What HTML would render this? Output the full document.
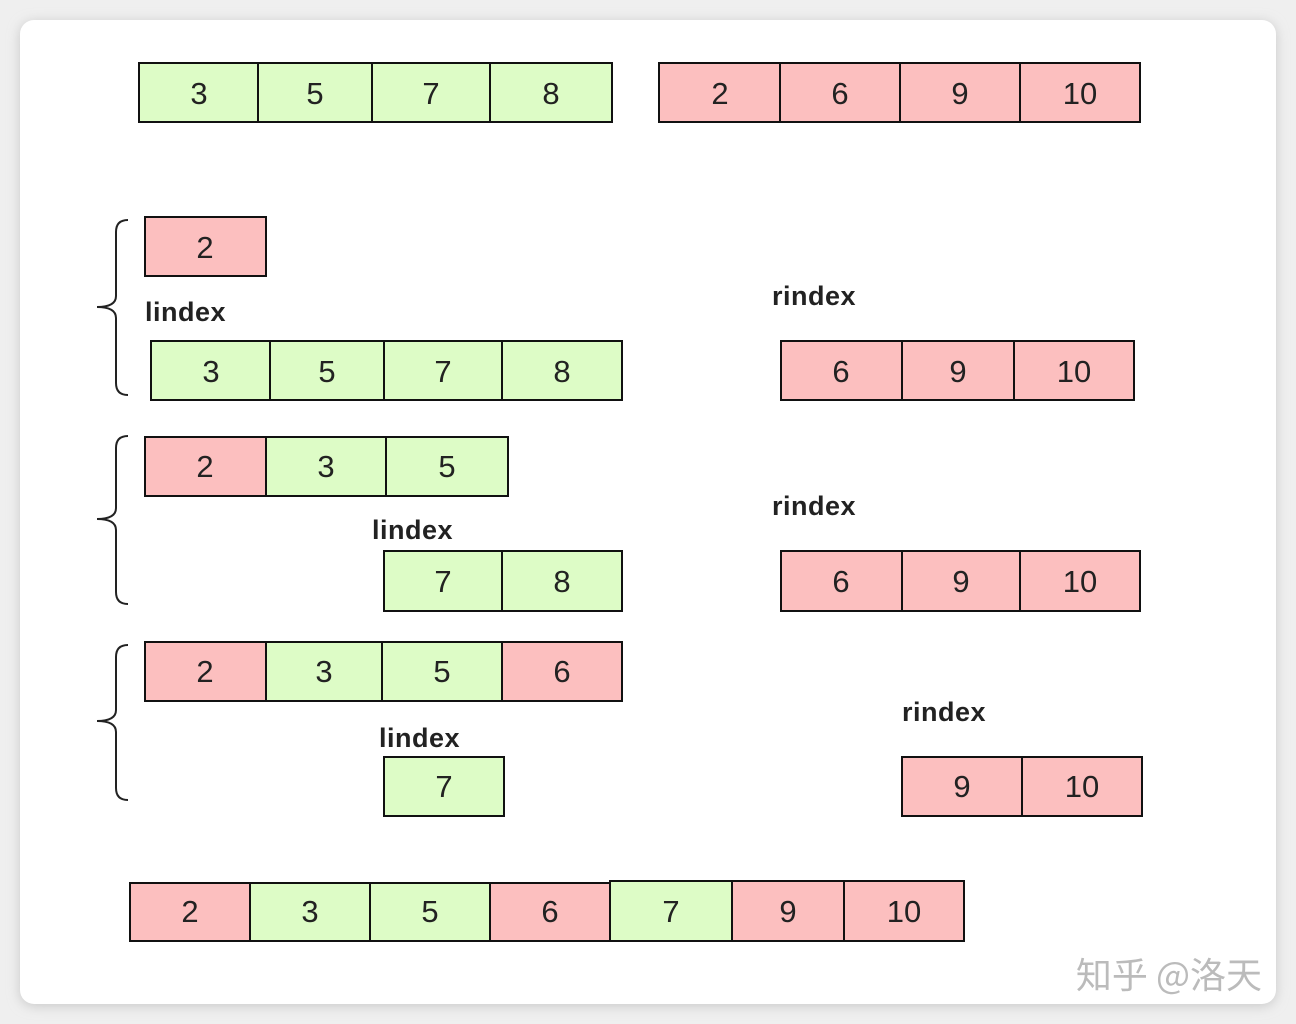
<!DOCTYPE html>
<html><head><meta charset="utf-8"><style>
html,body{margin:0;padding:0;background:#efefef;width:1296px;height:1024px;overflow:hidden}
svg{display:block}
</style></head><body>
<svg width="1296" height="1024" viewBox="0 0 1296 1024" xmlns="http://www.w3.org/2000/svg">
<defs><filter id="sh" x="-5%" y="-5%" width="110%" height="110%"><feGaussianBlur stdDeviation="6"/></filter></defs>
<rect x="20" y="22" width="1256" height="984" rx="14" fill="#c8c8c8" filter="url(#sh)"/>
<rect x="20" y="20" width="1256" height="984" rx="14" fill="#fff"/>
<g stroke="#111" stroke-width="2">
<!-- row1 green -->
<rect x="139" y="63" width="119" height="59" fill="#ddfcc6"/>
<rect x="258" y="63" width="114" height="59" fill="#ddfcc6"/>
<rect x="372" y="63" width="118" height="59" fill="#ddfcc6"/>
<rect x="490" y="63" width="122" height="59" fill="#ddfcc6"/>
<!-- row1 red -->
<rect x="659" y="63" width="121" height="59" fill="#fcbfbf"/>
<rect x="780" y="63" width="120" height="59" fill="#fcbfbf"/>
<rect x="900" y="63" width="120" height="59" fill="#fcbfbf"/>
<rect x="1020" y="63" width="120" height="59" fill="#fcbfbf"/>
<!-- A -->
<rect x="145" y="217" width="121" height="59" fill="#fcbfbf"/>
<rect x="151" y="341" width="119" height="59" fill="#ddfcc6"/>
<rect x="270" y="341" width="114" height="59" fill="#ddfcc6"/>
<rect x="384" y="341" width="118" height="59" fill="#ddfcc6"/>
<rect x="502" y="341" width="120" height="59" fill="#ddfcc6"/>
<rect x="781" y="341" width="121" height="59" fill="#fcbfbf"/>
<rect x="902" y="341" width="112" height="59" fill="#fcbfbf"/>
<rect x="1014" y="341" width="120" height="59" fill="#fcbfbf"/>
<!-- B -->
<rect x="145" y="437" width="121" height="59" fill="#fcbfbf"/>
<rect x="266" y="437" width="120" height="59" fill="#ddfcc6"/>
<rect x="386" y="437" width="122" height="59" fill="#ddfcc6"/>
<rect x="384" y="551" width="118" height="60" fill="#ddfcc6"/>
<rect x="502" y="551" width="120" height="60" fill="#ddfcc6"/>
<rect x="781" y="551" width="121" height="60" fill="#fcbfbf"/>
<rect x="902" y="551" width="118" height="60" fill="#fcbfbf"/>
<rect x="1020" y="551" width="120" height="60" fill="#fcbfbf"/>
<!-- C -->
<rect x="145" y="642" width="121" height="59" fill="#fcbfbf"/>
<rect x="266" y="642" width="116" height="59" fill="#ddfcc6"/>
<rect x="382" y="642" width="120" height="59" fill="#ddfcc6"/>
<rect x="502" y="642" width="120" height="59" fill="#fcbfbf"/>
<rect x="384" y="757" width="120" height="59" fill="#ddfcc6"/>
<rect x="902" y="757" width="120" height="59" fill="#fcbfbf"/>
<rect x="1022" y="757" width="120" height="59" fill="#fcbfbf"/>
<!-- final -->
<rect x="130" y="883" width="120" height="58" fill="#fcbfbf"/>
<rect x="250" y="883" width="120" height="58" fill="#ddfcc6"/>
<rect x="370" y="883" width="120" height="58" fill="#ddfcc6"/>
<rect x="490" y="883" width="120" height="58" fill="#fcbfbf"/>
<rect x="610" y="881" width="122" height="60" fill="#ddfcc6"/>
<rect x="732" y="881" width="112" height="60" fill="#fcbfbf"/>
<rect x="844" y="881" width="120" height="60" fill="#fcbfbf"/>
</g>
<g font-family="Liberation Sans, sans-serif" font-size="31" text-anchor="middle" fill="#222">
<text x="199" y="104">3</text><text x="315" y="104">5</text><text x="431" y="104">7</text><text x="551" y="104">8</text>
<text x="720" y="104">2</text><text x="840" y="104">6</text><text x="960" y="104">9</text><text x="1080" y="104">10</text>
<text x="205" y="258">2</text>
<text x="211" y="382">3</text><text x="327" y="382">5</text><text x="443" y="382">7</text><text x="562" y="382">8</text>
<text x="841" y="382">6</text><text x="958" y="382">9</text><text x="1074" y="382">10</text>
<text x="205" y="477">2</text><text x="326" y="477">3</text><text x="447" y="477">5</text>
<text x="443" y="592">7</text><text x="562" y="592">8</text>
<text x="841" y="592">6</text><text x="961" y="592">9</text><text x="1080" y="592">10</text>
<text x="205" y="682">2</text><text x="324" y="682">3</text><text x="442" y="682">5</text><text x="562" y="682">6</text>
<text x="444" y="797">7</text>
<text x="962" y="797">9</text><text x="1082" y="797">10</text>
<text x="190" y="922">2</text><text x="310" y="922">3</text><text x="430" y="922">5</text><text x="550" y="922">6</text>
<text x="671" y="922">7</text><text x="788" y="922">9</text><text x="904" y="922">10</text>
</g>
<g font-family="Liberation Sans, sans-serif" font-size="27" font-weight="bold" fill="#222" letter-spacing="0.5">
<text x="145" y="321">lindex</text>
<text x="772" y="305">rindex</text>
<text x="372" y="539">lindex</text>
<text x="772" y="515">rindex</text>
<text x="379" y="747">lindex</text>
<text x="902" y="721">rindex</text>
</g>
<g fill="none" stroke="#222" stroke-width="2">
<path d="M128 220 Q116 220 116 232 L116 296 Q116 307 97 307 Q116 307 116 318 L116 383 Q116 395 128 395"/>
<path d="M128 436 Q116 436 116 448 L116 508 Q116 519 97 519 Q116 519 116 530 L116 592 Q116 604 128 604"/>
<path d="M128 645 Q116 645 116 657 L116 710 Q116 721 97 721 Q116 721 116 732 L116 788 Q116 800 128 800"/>
</g>
<text x="1262" y="988" text-anchor="end" font-family="Noto Sans CJK SC, sans-serif" font-size="36" fill="#bbb">知乎 @洛天</text>
</svg>
</body></html>
